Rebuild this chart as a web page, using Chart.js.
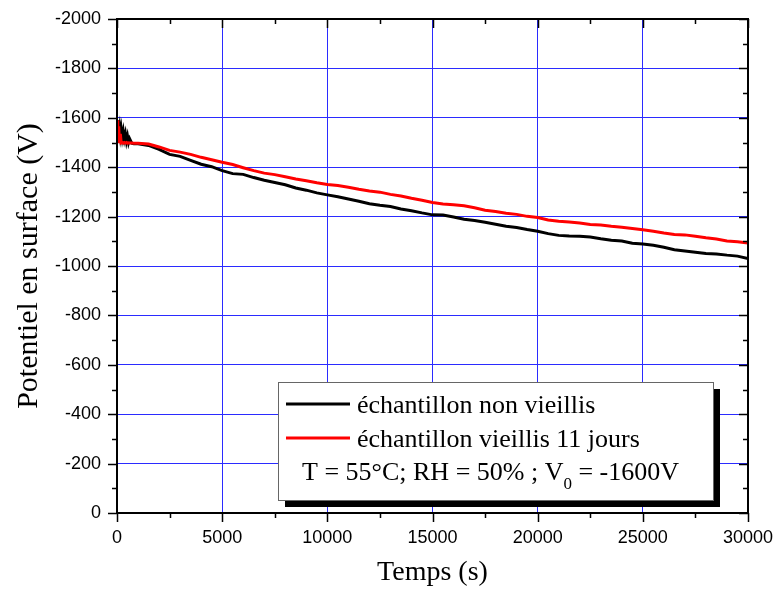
<!DOCTYPE html>
<html lang="fr">

<head>
    <meta charset="UTF-8">
    <title>Potentiel en surface</title>

    <script src="https://cdn.jsdelivr.net/npm/chart.js"></script>

    <style>
        html, body {
            margin: 0;
            padding: 0;
            background: #fff;
        }

        #wrap {
            width: 774px;
            height: 593px;
        }
    </style>
</head>

<body>
    <div id="wrap">
        <canvas id="myChart" width="774" height="593"></canvas>
    </div>

    <script>
        // Temps (s)
        const temps = [0, 40, 80, 120, 160, 200, 250, 300, 350, 400, 450, 500, 550, 600, 700, 800,
            1000, 1500, 2000, 2500, 3000, 3500, 4000, 4500, 5000, 5500, 6000, 6500, 7000, 7500,
            8000, 8500, 9000, 9500, 10000, 10500, 11000, 11500, 12000, 12500, 13000, 13500, 14000,
            14500, 15000, 15500, 16000, 16500, 17000, 17500, 18000, 18500, 19000, 19500, 20000,
            20500, 21000, 21500, 22000, 22500, 23000, 23500, 24000, 24500, 25000, 25500, 26000,
            26500, 27000, 27500, 28000, 28500, 29000, 29500, 30000];

        // échantillon non vieillis (V)
        const nonVieilli = [-1590, -1570, -1545, -1565, -1530, -1555, -1520, -1545, -1515, -1535, -1505, -1525, -1500, -1515, -1497, -1495,
            -1495, -1488, -1472, -1452, -1444, -1428, -1412, -1402, -1386, -1374, -1371, -1358, -1347, -1338,
            -1329, -1316, -1307, -1296, -1288, -1280, -1271, -1262, -1252, -1246, -1241, -1231, -1224,
            -1215, -1207, -1206, -1198, -1189, -1184, -1177, -1169, -1161, -1156, -1148, -1141,
            -1131, -1124, -1121, -1120, -1117, -1110, -1104, -1101, -1092, -1089, -1084, -1076,
            -1066, -1061, -1056, -1051, -1049, -1044, -1040, -1030];

        // échantillon vieillis 11 jours (V)
        const vieilli11 = [-1590, -1500, -1565, -1497, -1535, -1498, -1500, -1497, -1500, -1498, -1500, -1497, -1499, -1498, -1498, -1497,
            -1497, -1494, -1482, -1468, -1461, -1452, -1440, -1430, -1420, -1411, -1398, -1386, -1376, -1370,
            -1361, -1352, -1345, -1337, -1330, -1326, -1319, -1311, -1304, -1299, -1290, -1283, -1274,
            -1266, -1257, -1251, -1248, -1244, -1236, -1226, -1221, -1214, -1209, -1201, -1196,
            -1186, -1181, -1178, -1174, -1168, -1166, -1161, -1157, -1152, -1147, -1141, -1134,
            -1128, -1126, -1120, -1114, -1109, -1101, -1098, -1093];

        const xTicks = [0, 5000, 10000, 15000, 20000, 25000, 30000];
        const yTicks = [0, -200, -400, -600, -800, -1000, -1200, -1400, -1600, -1800, -2000];

        const legendLines = ['échantillon non vieillis', 'échantillon vieillis 11 jours'];

        const serif = 'Liberation Serif, Times New Roman, serif';
        const sans = 'Liberation Sans, Arial, sans-serif';

        // pas de marge automatique pour les étiquettes en bout d'axe
        function noPad(s) {
            s.paddingLeft = 0;
            s.paddingRight = 0;
            s.paddingTop = 0;
            s.paddingBottom = 0;
        }

        // cadre + graduations (majeures et mineures) sur les 4 côtés
        const framePlugin = {
            id: 'frame',
            afterDraw(chart) {
                const { ctx, chartArea: a, scales: { x, y } } = chart;
                ctx.save();
                ctx.strokeStyle = '#000';
                ctx.lineWidth = 2;
                ctx.strokeRect(a.left, a.top, a.right - a.left, a.bottom - a.top);
                ctx.lineWidth = 1.5;
                ctx.beginPath();
                for (let v = 0; v <= 30000; v += 2500) {
                    const px = Math.round(x.getPixelForValue(v)) + 0.5;
                    const len = v % 5000 === 0 ? 9 : 5;
                    ctx.moveTo(px, a.bottom); ctx.lineTo(px, a.bottom + len);
                    ctx.moveTo(px, a.top); ctx.lineTo(px, a.top + len);
                }
                for (let v = 0; v >= -2000; v -= 100) {
                    const py = Math.round(y.getPixelForValue(v)) + 0.5;
                    const len = v % 200 === 0 ? 9 : 5;
                    ctx.moveTo(a.left, py); ctx.lineTo(a.left - len, py);
                    ctx.moveTo(a.right, py); ctx.lineTo(a.right - len, py);
                }
                ctx.stroke();
                ctx.restore();
            }
        };

        // légende encadrée avec ombre
        const legendPlugin = {
            id: 'boxLegend',
            afterDatasetsDraw(chart) {
                const ctx = chart.ctx;
                const bx = 278, by = 382, bw = 435, bh = 118;
                ctx.save();
                ctx.fillStyle = '#000';
                ctx.fillRect(bx + 7, by + 7, bw, bh);
                ctx.fillStyle = '#fff';
                ctx.fillRect(bx, by, bw, bh);
                ctx.strokeStyle = '#666';
                ctx.lineWidth = 1;
                ctx.strokeRect(bx + 0.5, by + 0.5, bw, bh);

                const colors = chart.data.datasets.map(d => d.borderColor);
                ctx.font = '26px ' + serif;
                ctx.textBaseline = 'alphabetic';
                ctx.textAlign = 'left';
                [[404, 413], [438, 447]].forEach(([ly, ty], i) => {
                    ctx.strokeStyle = colors[i];
                    ctx.lineWidth = 3;
                    ctx.beginPath();
                    ctx.moveTo(286, ly); ctx.lineTo(350, ly);
                    ctx.stroke();
                    ctx.fillStyle = '#000';
                    ctx.fillText(legendLines[i], 357, ty);
                });

                let tx = 302;
                const part1 = 'T = 55°C; RH = 50% ; V';
                ctx.fillText(part1, tx, 480);
                tx += ctx.measureText(part1).width;
                ctx.font = '17px ' + serif;
                ctx.fillText('0', tx, 489);
                tx += ctx.measureText('0').width;
                ctx.font = '26px ' + serif;
                ctx.fillText(' = -1600V', tx, 480);
                ctx.restore();
            }
        };

        window.onload = () => {
            const ctx = document.getElementById('myChart');

            const chart = new Chart(ctx, {
                type: 'line',
                data: {
                    datasets: [{
                        label: legendLines[0],
                        data: temps.map((t, i) => ({ x: t, y: nonVieilli[i] })),
                        borderColor: '#000000',
                        borderWidth: 3,
                        pointRadius: 0,
                        tension: 0,
                        order: 1,
                    }, {
                        label: legendLines[1],
                        data: temps.map((t, i) => ({ x: t, y: vieilli11[i] })),
                        borderColor: '#ff0000',
                        borderWidth: 3,
                        pointRadius: 0,
                        tension: 0,
                        order: 0,
                    }]
                },
                options: {
                    responsive: false,
                    animation: false,
                    layout: {
                        padding: { left: 0, right: 26, top: 19, bottom: 0 }
                    },
                    plugins: {
                        legend: { display: false },
                        tooltip: { enabled: false },
                    },
                    scales: {
                        x: {
                            type: 'linear',
                            min: 0,
                            max: 30000,
                            afterBuildTicks: (s) => { s.ticks = xTicks.map(v => ({ value: v })); },
                            afterFit: (s) => { s.height = 80; noPad(s); },
                            grid: { color: '#2b2bff', lineWidth: 1, drawTicks: false },
                            border: { display: false },
                            ticks: {
                                callback: (v) => String(v),
                                color: '#000',
                                padding: 14,
                                maxRotation: 0,
                                autoSkip: false,
                                font: { family: sans, size: 18 },
                            },
                            title: {
                                display: true,
                                text: 'Temps (s)',
                                color: '#000',
                                font: { family: serif, size: 28 },
                                padding: { top: 0, bottom: 4 },
                            }
                        },
                        y: {
                            type: 'linear',
                            reverse: true,
                            min: -2000,
                            max: 0,
                            afterBuildTicks: (s) => { s.ticks = yTicks.map(v => ({ value: v })); },
                            afterFit: (s) => { s.width = 117; noPad(s); },
                            grid: { color: '#2b2bff', lineWidth: 1, drawTicks: false },
                            border: { display: false },
                            ticks: {
                                callback: (v) => String(v),
                                color: '#000',
                                padding: 16,
                                autoSkip: false,
                                font: { family: sans, size: 18 },
                            },
                            title: {
                                display: true,
                                text: 'Potentiel en surface (V)',
                                color: '#000',
                                font: { family: serif, size: 30 },
                                padding: { top: 11, bottom: 0 },
                            }
                        }
                    }
                },
                plugins: [legendPlugin, framePlugin]
            });
        }
    </script>
</body>

</html>
